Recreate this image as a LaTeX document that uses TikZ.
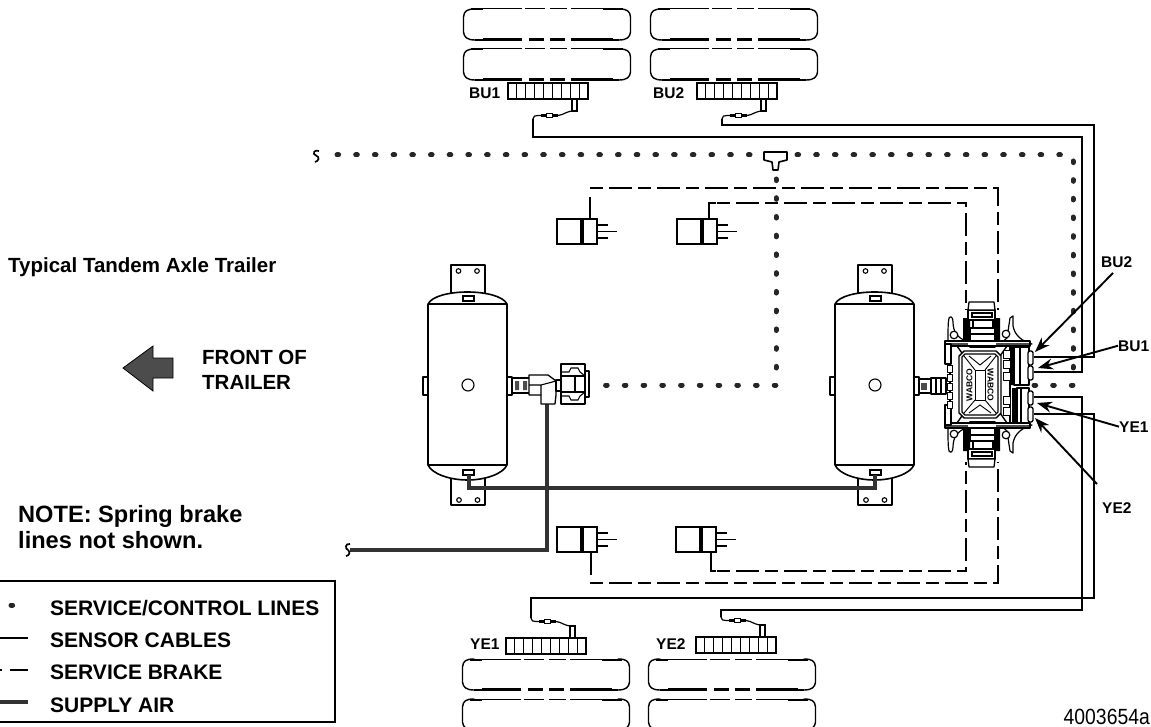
\documentclass[tikz,border=0pt]{standalone}
\usepackage{fontspec}
\setmainfont{Liberation Sans}
\usetikzlibrary{arrows.meta}
\tikzset{
  x=1pt,y=-1pt,
  thin line/.style={line width=1.1pt,black},
  part/.style={line width=1.3pt,black,fill=white,line join=round},
  sensor/.style={line width=1.5pt,black,line join=miter},
  svc/.style={line width=5pt,black!85,line cap=round,dash pattern=on 1.6pt off 17.1pt},
  svcv/.style={line width=5pt,black!85,line cap=round,dash pattern=on 1.6pt off 17.07pt},
  brake/.style={line width=2.8pt,black,dash pattern=on 13pt off 6pt on 23pt off 6pt},
  stem/.style={line width=2.8pt,black},
  supply/.style={line width=4.5pt,black!80,line join=miter},
  lbl/.style={font=\fontsize{20.5}{24}\selectfont\bfseries,anchor=base west,inner sep=0pt},
  leg lbl/.style={font=\fontsize{21}{24}\selectfont\bfseries,anchor=base west,inner sep=0pt},
  note lbl/.style={font=\fontsize{23.6}{26}\selectfont\bfseries,anchor=base west,inner sep=0pt},
  small lbl/.style={font=\fontsize{15.5}{18}\selectfont\bfseries,anchor=base west,inner sep=0pt},
  ptr/.style={line width=1.9pt,-{Stealth[length=15pt,width=11pt,inset=5pt]}},
}
\newcommand{\tirebox}[2]{\begin{scope}[shift={(#1,#2)}]
  \draw[line width=1.4pt,line cap=round] (12,0) .. controls (4,0) and (1,2) .. (.5,8) -- (.5,23) .. controls (1,28) and (4,31) .. (12,31);
  \draw[line width=1.4pt,line cap=round] (156,0) .. controls (164,0) and (167,2) .. (167.5,8) -- (167.5,23) .. controls (167,28) and (164,31) .. (156,31);
  \draw[line width=1pt] (12,0) -- (59,0) (62,0) -- (82,0) (87,0) -- (104,0) (108,0) -- (156,0);
  \draw[line width=1.5pt] (12,31) -- (59,31) (66,31) -- (81,31) (87,31) -- (102,31) (108,31) -- (156,31);
  \draw[line width=.6pt] (20,29) -- (59,29) (66,29) -- (81,29) (87,29) -- (102,29) (108,29) -- (150,29);
  \draw[line width=2pt] (8,.5) -- (20,.5) (140,.5) -- (160,.5);
\end{scope}}
\newcommand{\stripbox}[2]{\begin{scope}[shift={(#1,#2)}]
  \draw[line width=1.3pt] (0,0) rectangle (80,16);
  \foreach \k in {1,...,8} \draw[line width=1pt] ({\k*80/9},0) -- ({\k*80/9},16);
\end{scope}}
\newcommand{\pigtail}{%
  \draw[line width=1.1pt,fill=white] (64,0) rectangle (69,12);
  \draw[line width=1.2pt] (66,12) .. controls (58,12) and (56,16) .. (50,16.5) -- (40,16.5) -- (30,16.5) .. controls (27,16.5) and (25,17) .. (25,20);
  \draw[line width=2.6pt] (33,16.5) -- (38,16.5) (44,16.5) -- (50,16.5);
  \draw[line width=.8pt,fill=white] (38,14.5) rectangle (44,18.5);}
\newcommand{\tankbody}[1]{\begin{scope}[shift={(#1,0)}]
  \draw[part] (451,265) rectangle (485,295);
  \draw[part] (451,478) rectangle (485,505);
  \draw[thin line] (458.5,271) circle (2.3) (477,271) circle (2.3) (459,500) circle (2.3) (477.5,500) circle (2.3);
  \draw[part] (423,377) rectangle (428,395);
  \draw[part,line width=1.6pt] (428,304) .. controls (432,296) and (450,292) .. (467.5,292) .. controls (485,292) and (503,296) .. (507,304) -- (507,465) .. controls (503,474) and (485,480) .. (467.5,480) .. controls (450,480) and (432,474) .. (428,465) -- cycle;
  \draw[thin line] (428,304) -- (507,304) (428,465) -- (507,465);
  \draw[thin line] (463,296) rectangle (474,301);
  \draw[thin line,fill=white] (463,470) rectangle (474,475);
  \draw[thin line] (468,385) circle (6);
\end{scope}}
\newcommand{\valveunit}[2]{\begin{scope}[shift={(#1,#2)}]
  \draw[line width=1.6pt] (0,0) rectangle (24,25);
  \draw[line width=1.6pt] (26,0) rectangle (40,25);
  \draw[line width=1.2pt] (40,6) -- (51,6) (40,12.5) -- (60,12.5) (40,19) -- (51,19);
\end{scope}}
\newcommand{\actuator}{%
  \draw[part,line width=1.2pt] (948,342) .. controls (948,330) and (948,322) .. (949,318) .. controls (951,315) and (953,318) .. (953,322) .. controls (953,332) and (958,338) .. (966,341) -- cycle;
  \draw[part,line width=1.2pt] (1010,318) -- (1013,316) -- (1013,326) .. controls (1015,336) and (1022,341) .. (1032,344) -- (1000,344) -- (1007,338) -- cycle;
  \draw[part,line width=1.2pt] (954,335) circle (3.8) (1006,334) circle (3.8);
  \fill[black] (963,318) rectangle (970,341) (993,318) rectangle (1000,341);
  \draw[part] (968,310) rectangle (995,320);
  \draw[part] (969,302) -- (994,302) -- (995,310) -- (968,310) -- cycle;
  \draw[thin line] (972,313) rectangle (992,317);
  \draw[part] (973,320) rectangle (993,328);
  \draw[part] (970,328) rectangle (995,347);
  \draw[thin line] (970,334) -- (995,334);
  \draw[part] (945,341) -- (1030,341) -- (1030,346) -- (945,346) -- cycle;
  \draw[line width=2pt,black!70] (946,343.5) -- (968,343.5) (996,343.5) -- (1029,343.5);
  \draw[line width=1.4pt] (957,346) -- (964,356) (1007,346) -- (1000,356);
}
\begin{document}
\begin{tikzpicture}
\clip (0,0) rectangle (1151,727);
% tires
\tirebox{463}{9}\tirebox{463}{49}\tirebox{650}{9}\tirebox{650}{49}
\tirebox{462}{659}\tirebox{462}{699}\tirebox{648}{659}\tirebox{648}{699}
% sensor strips
\stripbox{508}{83}\stripbox{697}{83}\stripbox{506}{638}\stripbox{696}{637}
\begin{scope}[shift={(508,99)}]\pigtail\end{scope}
\begin{scope}[shift={(697,99)}]\pigtail\end{scope}
\begin{scope}[shift={(506,638)},yscale=-1]\pigtail\end{scope}
\begin{scope}[shift={(696,637)},yscale=-1]\pigtail\end{scope}
\node[small lbl] (tBUa) at (469,99) {BU1};
\node[small lbl] (tBUb) at (653,99) {BU2};
\node[small lbl] (tYEa) at (470,649) {YE1};
\node[small lbl] (tYEb) at (656,649) {YE2};
% named ends
\coordinate (bu1s) at (533,119); \coordinate (bu2s) at (722,119);
\coordinate (ye1s) at (531,618); \coordinate (ye2s) at (721,617);
\coordinate (bu1p) at (1034,372); \coordinate (bu2p) at (1034,357);
\coordinate (ye1p) at (1034,397); \coordinate (ye2p) at (1034,414);
% sensor cables
\draw[sensor] (bu1s) -- (533,137) -- (1082,137) -- (1082,372) -- (bu1p);
\draw[sensor] (bu2s) -- (722,125) -- (1094,125) -- (1094,357) -- (bu2p);
\draw[sensor] (ye1s) -- (531,598) -- (1094,598) -- (1094,414) -- (ye2p);
\draw[sensor] (ye2s) -- (721,610) -- (1082,610) -- (1082,397) -- (ye1p);
% service/control dots
\coordinate (dA) at (337,155); \coordinate (dB) at (764,155);
\coordinate (dC) at (797,155); \coordinate (dD) at (1066,155);
\coordinate (dE) at (1073,161); \coordinate (dF) at (1073,385); \coordinate (dG) at (1030,385);
\coordinate (dH) at (776,179); \coordinate (dJ) at (776,385); \coordinate (dK) at (590,385);
\draw[svc] (dA) -- (dB);
\draw[svc] (dC) -- (dD);
\draw[svcv] (dE) -- (dF) -- (dG);
\draw[svc,dash pattern=on 1.6pt off 17.14pt] (dH) -- (dJ) -- (dK);
\draw[line width=1.7pt] (319,151) .. controls (314,149) and (312,154) .. (316,155.5) .. controls (320,157) and (319,161) .. (315,162);
\draw[part,line width=1.6pt] (764,152) -- (787,152) -- (787,160) -- (779,162) -- (778,170) -- (773,170) -- (772,162) -- (764,160) -- cycle;
% service brake
\draw[brake] (590,188) -- (998,188) -- (998,310);
\draw[brake] (717,203) -- (966,203) -- (966,310);
\draw[brake] (590,583) -- (998,583) -- (998,462);
\draw[brake] (717,571) -- (966,571) -- (966,462);
% valves
\valveunit{557}{219}\valveunit{677}{219}\valveunit{557}{527}\valveunit{676}{527}
\draw[stem] (590,197) -- (590,219);
\draw[stem] (716,203) -- (709,203) -- (709,219);
\draw[stem] (591,552) -- (591,575);
\draw[stem] (711,552) -- (711,571) -- (716,571);
% tanks
\tankbody{0}\tankbody{407}
% supply air
\coordinate (suA) at (547,404); \coordinate (suB) at (350,550);
\coordinate (suC) at (469,475); \coordinate (suD) at (875,475);
\draw[supply] (suA) -- (547,550) -- (suB);
\draw[supply] (suC) -- (469,488) -- (875,488) -- (suD);
\draw[line width=1.7pt] (350,544) .. controls (345,543) and (345,549) .. (348,550) .. controls (351,552) and (349,556) .. (346,556);
% fitting and valve at left tank
\draw[part] (507,377) rectangle (512,395);
\draw[part] (512,378) rectangle (530,393);
\fill[black!70] (515,381) rectangle (519,390) (523,381) rectangle (527,390);
\draw[part] (529,375) -- (548,375) -- (556,381) -- (556,395) -- (555,404) -- (541,404) -- (541,395) -- (529,395) -- cycle;
\draw[thin line] (529,385) -- (541,385) -- (541,395) (541,385) -- (556,381);
\draw[part] (556,380) rectangle (561,391);
\draw[part] (585,371) rectangle (589,397);
\draw[part] (561,364) rectangle (585,404);
\draw[thin line] (561,372) -- (569,372) -- (571,368) -- (578,368) -- (580,372) -- (585,376);
\draw[thin line] (561,396) -- (569,396) -- (571,400) -- (578,400) -- (580,396) -- (585,392);
\draw[part] (575,376) rectangle (585,392);
\draw[thin line] (561,376) -- (575,376) (561,392) -- (575,392);
% ---- valve assembly at the right tank
\draw[part] (914,377) rectangle (919,395);
\draw[part] (919,379) rectangle (931,393);
\fill[black!70] (921,383) rectangle (927,390);
\draw[part] (931,378) rectangle (946,394);
\draw[thin line] (936,378) -- (936,394) (941,378) -- (941,394);
\actuator
\begin{scope}[shift={(0,769)},yscale=-1]\actuator\end{scope}
\draw[line width=1.4pt] (950,346) -- (950,423) (1010,346) -- (1010,423);
\draw[part] (945,344) rectangle (951,364);
\draw[part] (945,405) rectangle (951,425);
\foreach \yy in {365,374,383,392,401} \draw[part,line width=.9pt] (947,\yy) rectangle (952,{\yy+7});
\draw[part,line width=1.4pt] (964,351) -- (996,351) -- (1001,356) -- (1001,413) -- (996,418) -- (964,418) -- (959,413) -- (959,356) -- cycle;
\draw[thin line] (965,354) -- (995,354) -- (998,357) -- (998,412) -- (995,415) -- (965,415) -- (962,412) -- (962,357) -- cycle;
\draw[part,line width=.9pt] (975,370) -- (985,370) -- (985,400) -- (975,400) -- cycle;
\draw[line width=.9pt] (964,356) -- (975,370) (996,356) -- (985,370) (964,413) -- (975,400) (996,413) -- (985,400);
\draw[line width=.9pt] (969,356) -- (980,365) -- (991,356) (969,413) -- (980,405) -- (991,413);
\node[font=\fontsize{8.5}{9}\selectfont\bfseries,inner sep=0pt,rotate=90] (wabL) at (969.5,385) {WABCO};
\node[font=\fontsize{8.5}{9}\selectfont\bfseries,inner sep=0pt,rotate=-90] (wabR) at (990.5,385) {WABCO};
\foreach \yy in {350,360,372,396,407} \draw[part,line width=.8pt] (1003,\yy) rectangle (1010,{\yy+8});
\fill[black] (1010,347) rectangle (1014,385) (1012,388) rectangle (1017,423);
\draw[part] (1014,347) rectangle (1029,385);
\draw[part] (1017,388) rectangle (1029,423);
\draw[thin line] (1020,347) -- (1020,385) (1021,388) -- (1021,423);
\draw[part,rounded corners=2pt] (1028,351) rectangle (1033,365);
\draw[part,rounded corners=2pt] (1028,366) rectangle (1033,380);
\draw[part,rounded corners=2pt] (1028,391) rectangle (1033,405);
\draw[part,rounded corners=2pt] (1028,407) rectangle (1033,422);
% callouts
\node[small lbl] (lBUb) at (1101,268) {BU2};
\node[small lbl] (lBUa) at (1118,351) {BU1};
\node[small lbl] (lYEa) at (1119,432) {YE1};
\node[small lbl] (lYEb) at (1102,513) {YE2};
\coordinate (aBUb) at (1035,352); \coordinate (aBUa) at (1038,368);
\coordinate (aYEa) at (1037,403); \coordinate (aYEb) at (1035,418);
\coordinate (oBUb) at (1113,273); \coordinate (oYEb) at (1097,484);
\draw[ptr] (oBUb) -- (aBUb);
\draw[ptr] (lBUa.west) -- (aBUa);
\draw[ptr] (lYEa.west) -- (aYEa);
\draw[ptr] (oYEb) -- (aYEb);
% left texts
\node[lbl] (title) at (8,273) {Typical Tandem Axle Trailer};
\node[lbl] (frontA) at (202,364) {FRONT OF};
\node[lbl] (frontB) at (202,389) {TRAILER};
\node[note lbl] (noteA) at (18,522) {NOTE: Spring brake};
\node[note lbl] (noteB) at (18,548) {lines not shown.};
\draw[black,line width=.8pt,fill=black!70] (123,368) -- (153,346) -- (153,358) -- (173,358) -- (173,378) -- (153,378) -- (153,391) -- cycle;
% legend
\draw[line width=1.7pt] (-3,581) rectangle (335,722);
\draw[svc,dash pattern=on 1.6pt off 20pt] (11,605) -- (14,605);
\draw[sensor] (0,638) -- (28,638);
\draw[line width=2.6pt] (0,670) -- (2,670) (10,670) -- (28,670);
\draw[supply] (0,702) -- (28,702);
\node[leg lbl] (legA) at (50,615) {SERVICE/CONTROL LINES};
\node[leg lbl] (legB) at (50,647) {SENSOR CABLES};
\node[leg lbl] (legC) at (50,679) {SERVICE BRAKE};
\node[leg lbl] (legD) at (50,712) {SUPPLY AIR};
\node[inner sep=0pt,anchor=base east,font=\fontsize{22}{26}\selectfont,xscale=.88] (docno) at (1150,724) {4003654a};
\end{tikzpicture}
\end{document}
